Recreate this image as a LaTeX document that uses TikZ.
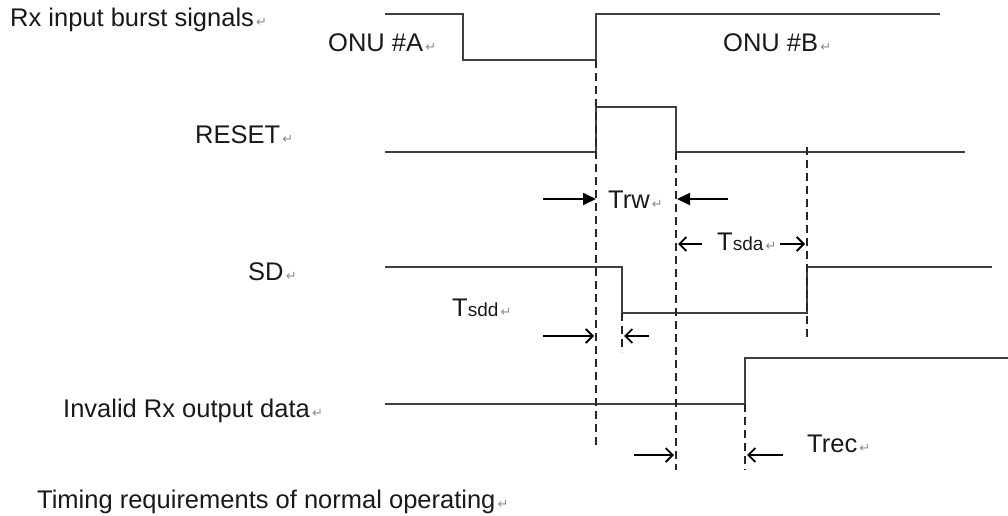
\documentclass[tikz,border=0pt]{standalone}
\usepackage{fontspec}
\setmainfont{Liberation Sans}
\newfontfamily\markfont{DejaVu Sans}
\usetikzlibrary{arrows.meta}
\newcommand{\pmark}{{\markfont\fontsize{13}{13}\selectfont\color{black!45}\,↵}}
\newcommand{\subsz}{\fontsize{19}{19}\selectfont}
\tikzset{
  lbl/.style={anchor=base west, inner sep=0pt, font=\fontsize{25.5}{26}\selectfont, text=black!90},
  sig/.style={line width=2pt, draw=black!75},
  guide/.style={line width=2.4pt, draw=black!85, dash pattern=on 8pt off 5pt},
  solidarr/.style={line width=1.8pt, draw=black, -{Triangle[length=13pt,width=12pt]}},
  openarr/.style={line width=1.8pt, draw=black, -{Straight Barb[length=7pt,width=14pt,line width=1.8pt]}}
}
\begin{document}
\begin{tikzpicture}[x=1pt,y=-1pt]
\useasboundingbox (0,0) rectangle (1008,515);
% labels
\node[lbl] (lblrx) at (10,26) {Rx input burst signals\pmark};
\node[lbl] (lblA) at (328,51) {ONU \#A\pmark};
\node[lbl] (lblB) at (723,51) {ONU \#B\pmark};
\node[lbl] (lblreset) at (195,143) {RESET\pmark};
\node[lbl] (lblsd) at (248,280) {SD\pmark};
\node[lbl] (lblinv) at (63,417) {Invalid Rx output data\pmark};
\node[lbl] (caption) at (37,508) {Timing requirements of normal operating\pmark};
\node[lbl] (trw) at (608,208) {Trw\pmark};
\node[lbl] (tsda) at (717,250) {T{\subsz sda}\pmark};
\node[lbl] (tsdd) at (452,316) {T{\subsz sdd}\pmark};
\node[lbl] (trec) at (807,452) {Trec\pmark};
% signal coordinates
\coordinate (r0) at (385,14); \coordinate (r1) at (463,14); \coordinate (r2) at (463,60);
\coordinate (r3) at (596,60); \coordinate (r4) at (596,14); \coordinate (r5) at (940,14);
\coordinate (s0) at (385,152); \coordinate (s1) at (596,152); \coordinate (s2) at (596,107);
\coordinate (s3) at (676,107); \coordinate (s4) at (676,152); \coordinate (s5) at (965,152);
\coordinate (d0) at (385,267); \coordinate (d1) at (622,267); \coordinate (d2) at (622,313);
\coordinate (d3) at (807,313); \coordinate (d4) at (807,267); \coordinate (d5) at (992,267);
\coordinate (o0) at (385,404); \coordinate (o1) at (745,404); \coordinate (o2) at (745,358);
\coordinate (o3) at (1008,358);
% waveforms
\draw[sig] (r0) -- (r1) -- (r2) -- (r3) -- (r4) -- (r5);
\draw[sig] (s0) -- (s1) -- (s2) -- (s3) -- (s4) -- (s5);
\draw[sig] (d0) -- (d1) -- (d2) -- (d3) -- (d4) -- (d5);
\draw[sig] (o0) -- (o1) -- (o2) -- (o3);
% dashed guides
\coordinate (g1b) at (596,448);
\coordinate (g2b) at (676,470);
\coordinate (g3t) at (807,147); \coordinate (g3b) at (807,340);
\coordinate (g4b) at (622,352);
\coordinate (g5b) at (745,470);
\draw[guide] (r3) -- (g1b);
\draw[guide] (s4) -- (g2b);
\draw[guide] (g3t) -- (g3b);
\draw[guide] (d2) -- (g4b);
\draw[guide] (o1) -- (g5b);
% Trw arrows
\coordinate (a1s) at (543,199); \coordinate (a1e) at (596,199);
\coordinate (a2s) at (728,199); \coordinate (a2e) at (677,199);
\draw[solidarr] (a1s) -- (a1e);
\draw[solidarr] (a2s) -- (a2e);
% Tsda arrows
\coordinate (b1s) at (702,244); \coordinate (b1e) at (678,244);
\coordinate (b2s) at (780,244); \coordinate (b2e) at (805,244);
\draw[openarr] (b1s) -- (b1e);
\draw[openarr] (b2s) -- (b2e);
% Tsdd arrows
\coordinate (c1s) at (543,336); \coordinate (c1e) at (594,336);
\coordinate (c2s) at (649,336); \coordinate (c2e) at (624,336);
\draw[openarr] (c1s) -- (c1e);
\draw[openarr] (c2s) -- (c2e);
% Trec arrows
\coordinate (e1s) at (634,455); \coordinate (e1e) at (674,455);
\coordinate (e2s) at (783,455); \coordinate (e2e) at (747,455);
\draw[openarr] (e1s) -- (e1e);
\draw[openarr] (e2s) -- (e2e);
\end{tikzpicture}
\end{document}
